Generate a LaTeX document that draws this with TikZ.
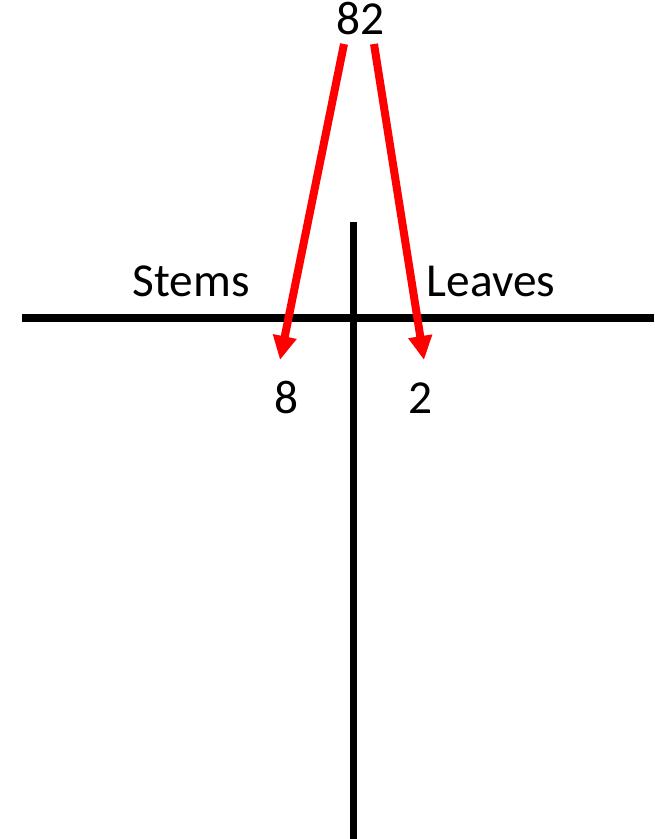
\documentclass[tikz,border=0pt]{standalone}
\usepackage{fontspec}
\setmainfont{Carlito}
\usetikzlibrary{arrows.meta}
\begin{document}
\begin{tikzpicture}[x=0.75pt,y=-0.75pt,
  lbl/.style={anchor=base,inner sep=0pt,font=\fontsize{35.5}{42}\selectfont},
  axis/.style={line width=5.6pt,black},
  redarrow/.style={line width=6pt,red,-{Triangle[length=18pt,width=17pt]}}]
\useasboundingbox (0,0) rectangle (654,839);
\fill[white] (0,0) rectangle (654,839);
\draw[axis] (22,318) -- (654,318);
\draw[axis] (353.5,222) -- (353.5,839);
\node[lbl] (n82) at (360,34) {82};
\node[lbl] (stems) at (191,296) {Stems};
\node[lbl] (leaves) at (491,296) {Leaves};
\node[lbl] (n8) at (286,413) {8};
\node[lbl] (n2) at (420,413) {2};
\coordinate (s1) at (344,44);
\coordinate (e1) at (280,360);
\coordinate (s2) at (374,44);
\coordinate (e2) at (424,360);
\draw[redarrow] (s1) -- (e1);
\draw[redarrow] (s2) -- (e2);
\end{tikzpicture}
\end{document}
